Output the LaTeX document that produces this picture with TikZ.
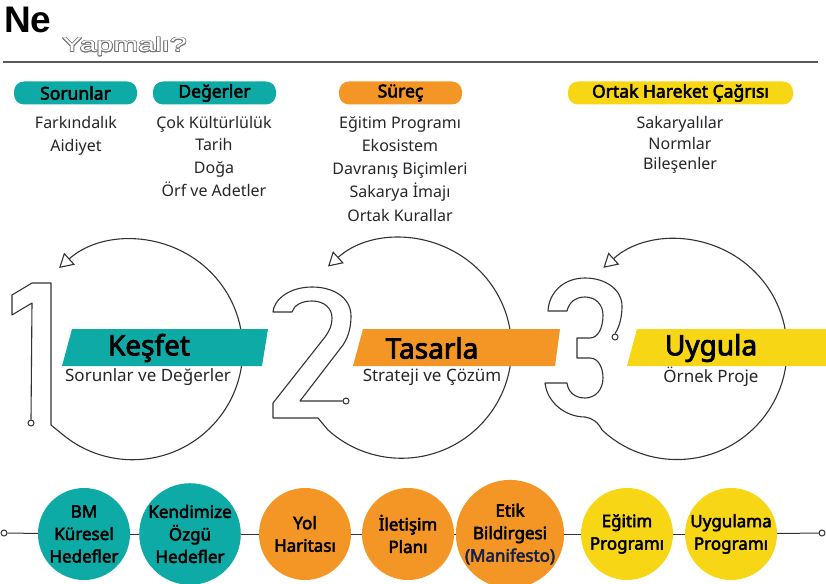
\documentclass[tikz,border=0pt]{standalone}
\usepackage{fontspec}
\setmainfont{Noto Sans}[BoldFont={Noto Sans}, BoldFeatures={FakeBold=3}]
\newfontfamily\headfont{Liberation Sans}
\newfontfamily\widefont[FakeStretch=1.5]{Liberation Sans}
\usepackage{contour}
\contourlength{0.75pt}
\usetikzlibrary{arrows.meta,positioning}

\definecolor{tealc}{RGB}{13,170,166}
\definecolor{orangec}{RGB}{243,150,37}
\definecolor{yellowc}{RGB}{247,214,22}
\definecolor{inkc}{RGB}{38,38,42}
\definecolor{linec}{RGB}{50,50,50}
\definecolor{navyc}{RGB}{22,32,70}

\tikzset{
	pill/.style={rounded corners=10pt, minimum width=123pt, minimum height=23pt, inner sep=0pt,
		font=\fontsize{17.5}{20}\selectfont\bfseries},
	listitem/.style={inner sep=0pt, text height=12pt, text depth=3.5pt, text=inkc,
		font=\fontsize{16}{20}\selectfont},
	digit/.style={draw=linec, line width=1.1pt, line join=round},
	cyclearc/.style={digit, -{Triangle[open, length=14pt, width=16pt]}},
	pinend/.style={circle, draw=linec, line width=1pt, fill=white, minimum size=6pt, inner sep=0pt},
	stage/.style={inner sep=0pt, font=\fontsize{28}{30}\selectfont\bfseries},
	stagesub/.style={inner sep=0pt, text=inkc, font=\fontsize{17}{20}\selectfont},
	goal/.style={circle, minimum size=92pt, inner sep=0pt, align=center,
		font=\fontsize{17}{22.5}\selectfont\bfseries},
	link/.style={draw=linec, line width=1pt}
}

\begin{document}
\begin{tikzpicture}[x=1pt, y=-1pt]
	\useasboundingbox (0,0) rectangle (826,583);

	% title
	\node[anchor=base west, inner sep=0pt, font=\headfont\fontsize{37}{40}\selectfont\bfseries] at (4,33)(ne){Ne};
	\node[anchor=base west, inner sep=0pt, text=white, font=\widefont\fontsize{20}{22}\selectfont] at (62,52)(yapmali){\contour{black!55}{Yapmalı?}};
	\draw[line width=1.4pt, black!65] (3,62) -- (818,62);

	% headings
	\node[pill, fill=tealc] at (75.5,93)(sorunlar){Sorunlar};
	\node[pill, fill=tealc] at (214.5,93)(degerler){Değerler};
	\node[pill, fill=orangec] at (400.5,93)(surec){Süreç};
	\node[pill, fill=yellowc, minimum width=225pt] at (680.5,93)(cagri){Ortak Hareket Çağrısı};

	\foreach \t [count=\i] in {Farkındalık,Aidiyet}
		\node[listitem] at (76,{124+23*(\i-1)}) {\t};
	\foreach \t [count=\i] in {Çok Kültürlülük,Tarih,Doğa,Örf ve Adetler}
		\node[listitem] at (214,{124+22.7*(\i-1)}) {\t};
	\foreach \t [count=\i] in {Eğitim Programı,Ekosistem,Davranış Biçimleri,Sakarya İmajı,Ortak Kurallar}
		\node[listitem] at (400,{124+23.2*(\i-1)}) {\t};
	\foreach \t [count=\i] in {Sakaryalılar,Normlar,Bileşenler}
		\node[listitem] at (680,{124+20.8*(\i-1)}) {\t};

	% digits and loops
	\node[pinend] at (31,423)(p1){};
	\node[pinend] at (346,401)(p2){};
	\node[pinend] at (615,337)(p3){};

	\draw[cyclearc] (p1.north) -- (32,303) -- (12,315) -- (12,295) -- (32,283) -- (51,283)
		-- (51,425) -- (62,434) arc[start angle=130, end angle=-132, radius=110];

	\draw[cyclearc] (p2.west) -- (300,401) -- (343,345)
		.. controls (349,336) and (351,326) .. (351,316)
		.. controls (351,298) and (334,287) .. (312,287)
		.. controls (290,287) and (274,299) .. (273,312) -- (292,312)
		.. controls (294,305) and (302,301) .. (312,301)
		.. controls (324,301) and (332,308) .. (332,318)
		.. controls (332,325) and (330,330) .. (325,337)
		-- (273,403) -- (273,418) -- (318,418) -- (328,430)
		arc[start angle=132, end angle=-132, radius=110];

	\draw[cyclearc] (p3.north)
		.. controls (620,326) and (622,316) .. (622,306)
		.. controls (622,290) and (606,278) .. (585,278)
		.. controls (564,278) and (549,292) .. (548,311) -- (567,311)
		.. controls (569,302) and (576,297) .. (585,297)
		.. controls (596,297) and (603,305) .. (603,315)
		.. controls (603,328) and (598,338) .. (590,338) -- (577,338) -- (577,358) -- (590,358)
		.. controls (598,358) and (603,367) .. (603,378)
		.. controls (603,390) and (595,398) .. (585,398)
		.. controls (575,398) and (568,392) .. (567,383) -- (545,383)
		.. controls (547,402) and (565,417) .. (585,417)
		.. controls (592,418) and (598,422) .. (602,430)
		arc[start angle=133, end angle=-132, radius=110];

	% bands
	\fill[tealc] (72,329) -- (268,329) -- (262,366) -- (62,366) -- cycle;
	\fill[orangec] (363,329) -- (560,329) -- (555,366) -- (353,366) -- cycle;
	\fill[yellowc] (637,329) -- (826,329) -- (826,366) -- (627,366) -- cycle;

	\node[stage] at (149,348)(kesfet){Keşfet};
	\node[stagesub] at (148,377)(kesfetsub){Sorunlar ve Değerler};
	\node[stage] at (432,348)(tasarla){Tasarla};
	\node[stagesub] at (432,377)(tasarlasub){Strateji ve Çözüm};
	\node[stage] at (711,348)(uygula){Uygula};
	\node[stagesub] at (711,377)(uygulasub){Örnek Proje};

	% goals row
	\node[pinend] at (4,533)(lend){};
	\node[pinend] at (822,533)(rend){};
	\node[goal, fill=tealc] at (84,534)(bm){BM\\Küresel\\Hedefler};
	\node[goal, fill=tealc] at (190,534)(kendi){Kendimize\\Özgü\\Hedefler};
	\node[goal, fill=orangec] at (305,534)(yol){Yol\\Haritası};
	\node[goal, fill=orangec] at (408,534)(iletisim){İletişim\\Planı};
	\node[goal, fill=orangec] at (510,534)(etik){Etik\\Bildirgesi\\{\color{navyc}(Manifesto)}};
	\node[goal, fill=yellowc] at (627,534)(egitim){Eğitim\\Programı};
	\node[goal, fill=yellowc] at (731,534)(uygulama){Uygulama\\Programı};

	\foreach \a/\b in {lend/bm, bm/kendi, kendi/yol, yol/iletisim, iletisim/etik, etik/egitim, egitim/uygulama, uygulama/rend}
		\draw[link] (\a) -- (\b);
\end{tikzpicture}
\end{document}
